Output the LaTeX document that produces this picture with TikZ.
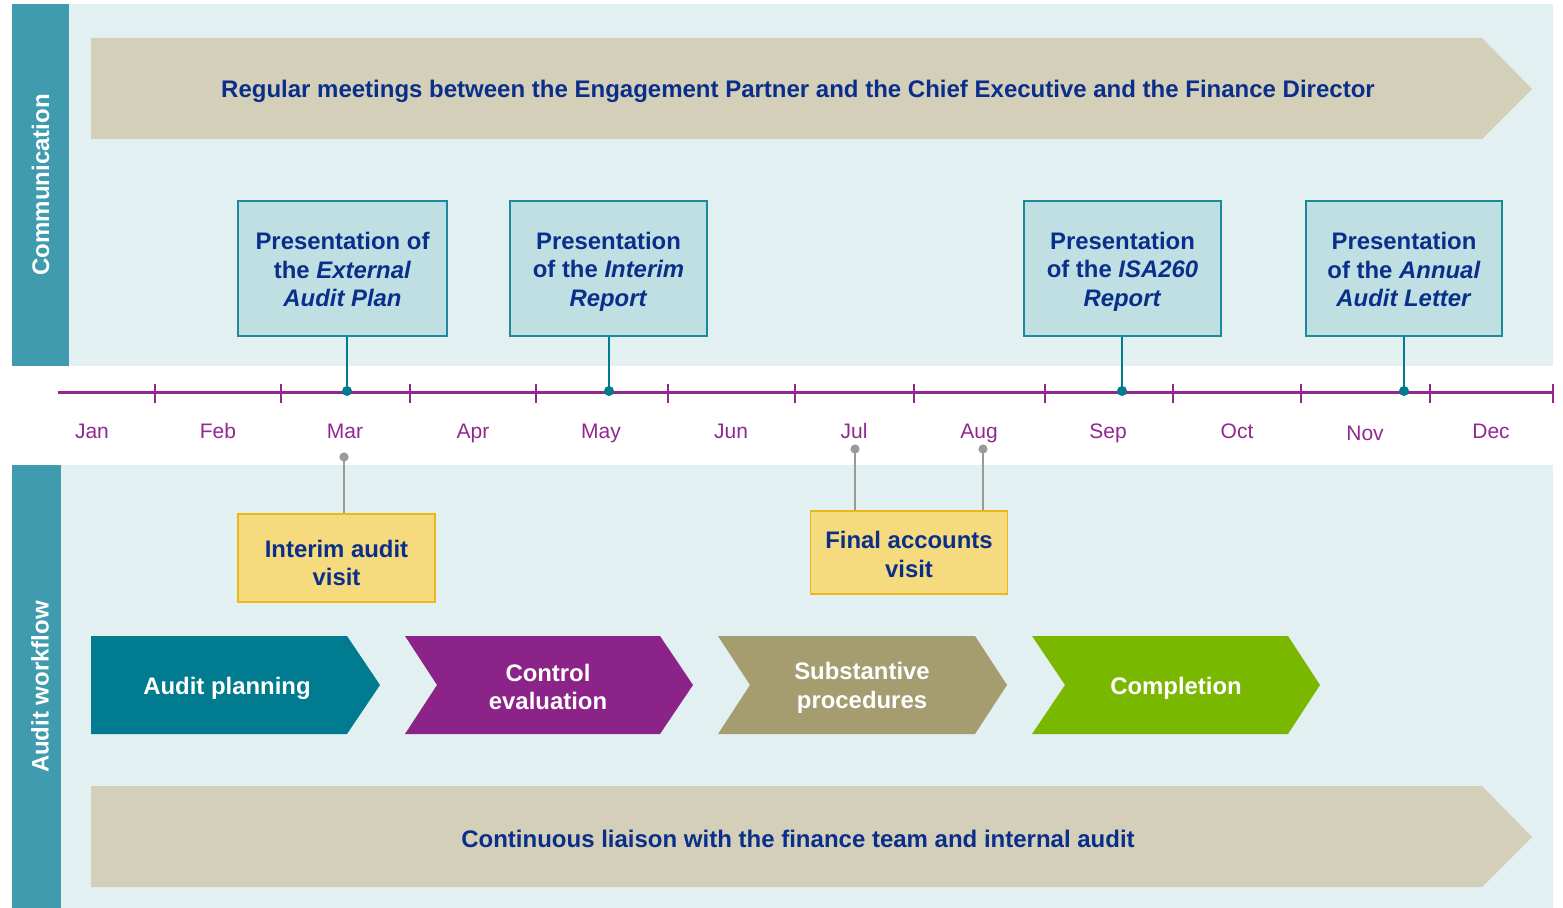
\documentclass[tikz,border=0pt]{standalone}
\usepackage{fontspec}
\setmainfont{Liberation Sans}
\usepackage{tikz}
\definecolor{navy}{HTML}{0A2F8A}
\definecolor{pale}{HTML}{E2F0F1}
\definecolor{side}{HTML}{3F9BAD}
\definecolor{sand}{HTML}{D4CFB8}
\definecolor{boxfill}{HTML}{BFDFE3}
\definecolor{boxline}{HTML}{1B8A9A}
\definecolor{plum}{HTML}{92278F}
\definecolor{stemcol}{HTML}{007B8F}
\definecolor{pingrey}{HTML}{9A9A9A}
\definecolor{yfill}{HTML}{F5DA7E}
\definecolor{yline}{HTML}{EBB81C}
\definecolor{cplan}{HTML}{007B8F}
\definecolor{cctrl}{HTML}{8B2388}
\definecolor{csub}{HTML}{A59C6F}
\definecolor{ccomp}{HTML}{7AB800}
\newcommand*\bandfont{\fontsize{12}{14.5}\selectfont\bfseries}
\newcommand*\boxfont{\fontsize{11.95}{14.3}\selectfont\bfseries}
\newcommand*\monthfont{\fontsize{10.5}{12}\selectfont}

\begin{document}
\begin{tikzpicture}[x=0.5pt,y=-0.5pt,
	sidebar/.style={fill=side},
	sidetext/.style={rotate=90,text=white,font=\bandfont},
	bandtext/.style={text=navy,font=\bandfont},
	pres/.style={draw=boxline,line width=0.9pt,fill=boxfill,minimum width=#1,minimum height=67.5pt,inner sep=0pt},
	visit/.style={draw=yline,line width=0.9pt,fill=yfill,minimum width=98.5pt,minimum height=#1,inner sep=0pt},
	boxtext/.style={align=center,text=navy,font=\boxfont,inner sep=0pt},
	stem/.style={draw=stemcol,line width=1pt},
	greystem/.style={draw=pingrey,line width=1pt},
	phase/.style={text=white,align=center,font=\boxfont}]
	\useasboundingbox (0,0) rectangle (1563,908);
	\fill[pale] (12,4) rectangle (1553,366);
	\fill[pale] (12,465) rectangle (1553,908);
	\fill[sidebar] (12,4) rectangle (69,366);
	\fill[sidebar] (12,465) rectangle (61,908);
	\node[sidetext] (comm) at (40.5,185) {Communication};
	\node[sidetext] (work) at (40,687) {Audit workflow};

	\fill[sand] (91,38) -- (1482,38) -- (1532,89) -- (1482,139) -- (91,139) -- cycle;
	\node[bandtext] (meet) at (798,91) {Regular meetings between the Engagement Partner and the Chief Executive and the Finance Director};
	\fill[sand] (91,786) -- (1482,786) -- (1532,837) -- (1482,887) -- (91,887) -- cycle;
	\node[bandtext] (liaison) at (798,839) {Continuous liaison with the finance team and internal audit};

	\draw[plum,line width=1.5pt] (58,393) -- (1553,393);
	\foreach \t in {155,281,410,536,668,795,914,1045,1173,1301,1430,1553}
		\draw[plum,line width=1pt] (\t,384) -- (\t,403);
	\foreach \m/\mx/\my in {Jan/92/439,Feb/218/439,Mar/345/439,Apr/473/439,May/601/439,Jun/731/439,Jul/854/439,Aug/979/439,Sep/1108/439,Oct/1237/439,Nov/1365/441,Dec/1491/439}
		\node[text=plum,font=\monthfont,anchor=base] (m\m) at (\mx,\my) {\m};

	\node[pres=104.5pt] (plan) at (342.5,268.5) {};
	\node[boxtext] (plantxt) at ([yshift=-0.5pt]plan.center) {Presentation of\\the \textit{External}\\\textit{Audit Plan}};
	\node[pres=98.5pt] (interim) at (608.5,268.5) {};
	\node[boxtext] (interimtxt) at ([yshift=-1.5pt]interim.center) {Presentation\\of the \textit{Interim}\\\textit{Report}};
	\node[pres=98.5pt] (isa) at (1122.5,268.5) {};
	\node[boxtext] (isatxt) at ([yshift=-1.5pt]isa.center) {Presentation\\of the \textit{ISA260}\\\textit{Report}};
	\node[pres=98pt] (letter) at (1404,268.5) {};
	\node[boxtext] (lettertxt) at ([yshift=-0.5pt]letter.center) {Presentation\\of the \textit{Annual}\\\textit{Audit Letter}};
	\coordinate (dmar) at (347,391);
	\coordinate (dmay) at (609,391);
	\coordinate (dsep) at (1122,391);
	\coordinate (dnov) at (1404,391);
	\foreach \b/\d in {plan/dmar,interim/dmay,isa/dsep,letter/dnov}{
		\draw[stem] (\b.south -| \d) -- (\d);
		\fill[stemcol] (\d) circle (2.5pt);
	}

	\node[visit=44pt] (ivisit) at (336.5,558) {};
	\node[boxtext] (ivisittxt) at ([yshift=-2.5pt]ivisit.center) {Interim audit\\visit};
	\node[visit=41.5pt] (fvisit) at (909,552.5) {};
	\node[boxtext] (fvisittxt) at ([yshift=-1pt]fvisit.center) {Final accounts\\visit};
	\coordinate (gmar) at (344,457);
	\coordinate (gjul) at (855,449);
	\coordinate (gaug) at (983,449);
	\foreach \b/\g in {ivisit/gmar,fvisit/gjul,fvisit/gaug}{
		\draw[greystem] (\b.north -| \g) -- (\g);
		\fill[pingrey] (\g) circle (2.3pt);
	}

	\fill[cplan] (91,636) -- (347,636) -- (380,685) -- (347,734) -- (91,734) -- cycle;
	\node[phase] (aplan) at (227,688) {Audit planning};
	\fill[cctrl] (405,636) -- (660,636) -- (693,685) -- (660,734) -- (405,734) -- (437,685) -- cycle;
	\node[phase] (ctrl) at (548,687) {Control\\evaluation};
	\fill[csub] (718,636) -- (975,636) -- (1007,685) -- (975,734) -- (718,734) -- (750,685) -- cycle;
	\node[phase] (subst) at (862,688) {Substantive\\procedures};
	\fill[ccomp] (1032,636) -- (1288,636) -- (1320,685) -- (1288,734) -- (1032,734) -- (1065,685) -- cycle;
	\node[phase] (compl) at (1176,688) {Completion};
\end{tikzpicture}
\end{document}
